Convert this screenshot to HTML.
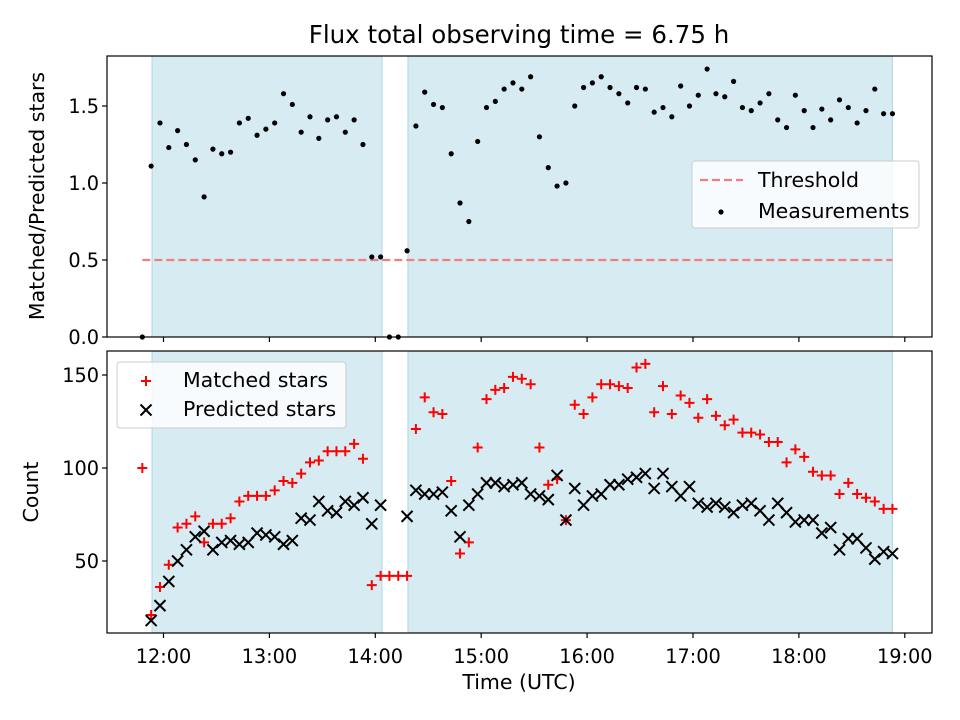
<!DOCTYPE html>
<html><head><meta charset="utf-8"><style>
body{margin:0;background:#fff}
svg{display:block;font-family:"DejaVu Sans","Liberation Sans",sans-serif}
</style></head><body>
<svg id="chart" width="960" height="720" viewBox="0 0 960 720" xmlns="http://www.w3.org/2000/svg">
<text x="519" y="43" font-size="24.5" text-anchor="middle">Flux total observing time = 6.75 h</text>
<g id="top"></g><g id="bot"></g>
</svg>
<script>
// minutes since 11:00
const times=[48,53,58,63,68,73,78,83,88,93,98,103,108,113,118,123,128,133,138,143,148,153,158,163,168,173,178,183,188,193,198,203,208,213,218,223,228,233,238,243,248,253,258,263,268,273,278,283,288,293,298,303,308,313,318,323,328,333,338,343,348,353,358,363,368,373,378,383,388,393,398,403,408,413,418,423,428,433,438,443,448,453,458,463,468,473];
const ratio=[0,1.11,1.39,1.23,1.34,1.25,1.15,0.91,1.22,1.19,1.20,1.39,1.42,1.31,1.35,1.39,1.58,1.51,1.33,1.43,1.29,1.41,1.43,1.33,1.41,1.25,0.52,0.52,0,0,0.56,1.37,1.59,1.51,1.49,1.19,0.87,0.75,1.27,1.49,1.53,1.61,1.65,1.61,1.69,1.30,1.10,0.98,1.00,1.50,1.62,1.65,1.69,1.62,1.58,1.52,1.62,1.61,1.46,1.49,1.43,1.63,1.50,1.57,1.74,1.58,1.56,1.66,1.49,1.47,1.52,1.58,1.41,1.36,1.57,1.47,1.36,1.48,1.41,1.54,1.49,1.39,1.47,1.61,1.45,1.45];
const matched=[100,21,36,48,68,70,74,60,70,70,73,82,85,85,85,88,93,92,97,103,104,109,109,109,113,105,37,42,42,42,42,121,138,130,129,93,54,60,111,137,142,143,149,148,145,111,91,94,72,134,129,138,145,145,144,143,154,156,130,144,129,139,135,127,137,128,123,126,119,119,118,114,114,103,110,106,98,96,96,86,92,86,84,82,78,78];
const predicted=[null,18,26,39,50,56,63,66,56,60,61,59,60,65,64,63,59,61,73,72,82,77,76,82,80,84,70,80,null,null,74,88,86,86,87,77,63,80,86,92,92,90,91,92,86,85,83,96,72,89,80,85,86,91,91,94,95,97,89,97,90,85,90,81,79,81,79,76,80,81,77,72,81,76,71,72,72,65,68,56,62,62,57,51,55,54];
const xTicks=[60,120,180,240,300,360,420,480];
const xTickLabels=["12:00","13:00","14:00","15:00","16:00","17:00","18:00","19:00"];
const topTicks=[0,0.5,1.0,1.5];
const botTicks=[50,100,150];
const spans=[[53.5,183.8],[198.5,473]];
const threshold=0.5;

const NS="http://www.w3.org/2000/svg";
const L=107,R=932,FS=19.3,FL=20.5;
const xs=m=>163.5+(m-60)*105.9/60;
const yTop=v=>337-v*154;
const yBot=v=>468-(v-100)*1.86;
function mk(p,tag,attrs){const e=document.createElementNS(NS,tag);for(const k in attrs)e.setAttribute(k,attrs[k]);p.appendChild(e);return e;}

function axes(g,y0,y1,name){
  spans.forEach(s=>{
    const r=mk(g,'rect',{x:xs(s[0]),y:y0,width:xs(s[1])-xs(s[0]),height:y1-y0,fill:'#add8e6','fill-opacity':0.5,stroke:'#add8e6','stroke-width':1});
    
    
  });
  xTicks.forEach((t,i)=>{
    const l=mk(g,'line',{x1:xs(t),x2:xs(t),y1:y1,y2:y1+5,stroke:'#000','stroke-width':1.2});
    
    
    if(name==='bot'){
      const tx=mk(g,'text',{x:xs(t),y:y1+30,'font-size':FS,'text-anchor':'middle'});
      tx.textContent=xTickLabels[i];
      
      
    }
  });
}
function frame(g,y0,y1){
  const f=mk(g,'rect',{x:L,y:y0,width:R-L,height:y1-y0,fill:'none',stroke:'#000','stroke-width':1.2});
  
  
}
function yticks(g,ticks,fn,fmt){
  ticks.forEach(t=>{
    const y=fn(t);
    const l=mk(g,'line',{x1:L-5,x2:L,y1:y,y2:y,stroke:'#000','stroke-width':1.2});
    
    
    const tx=mk(g,'text',{x:L-8,y:y+7,'font-size':FS,'text-anchor':'end'});
    tx.textContent=fmt(t);
    
    
  });
}
// TOP
const gt=document.getElementById('top');
axes(gt,56,337,'top');
const th=mk(gt,'line',{x1:xs(times[0]),x2:xs(times[times.length-1]),y1:yTop(threshold),y2:yTop(threshold),stroke:'#f08080','stroke-width':2.2,'stroke-dasharray':'8,4'});


times.forEach((t,i)=>{
  const c=mk(gt,'circle',{cx:xs(t),cy:yTop(ratio[i]),r:2.6,fill:'#000'});
  
  
});
frame(gt,56,337);
yticks(gt,topTicks,yTop,v=>v.toFixed(1));
const yl1=mk(gt,'text',{x:44,y:196,'font-size':FL,'text-anchor':'middle',transform:'rotate(-90 44 196)'});
yl1.textContent='Matched/Predicted stars';


// legend top
const lg1=mk(gt,'g',{});


mk(lg1,'rect',{x:692,y:161,width:227,height:67,rx:3,fill:'#fff','fill-opacity':0.8,stroke:'#ccc'});
mk(lg1,'line',{x1:700,x2:743,y1:180,y2:180,stroke:'#f08080','stroke-width':2.2,'stroke-dasharray':'8,4'});
const lt1=mk(lg1,'text',{x:758,y:187,'font-size':FL});lt1.textContent='Threshold';
mk(lg1,'circle',{cx:721,cy:212,r:2.6,fill:'#000'});
const lt2=mk(lg1,'text',{x:758,y:218,'font-size':FL});lt2.textContent='Measurements';
// BOTTOM
const gb=document.getElementById('bot');
axes(gb,351,633,'bot');
function plus(g,x,y){const p=mk(g,'path',{d:`M${x-5} ${y}H${x+5}M${x} ${y-5}V${y+5}`,stroke:'#f00','stroke-width':2});return p;}
function cross(g,x,y){const p=mk(g,'path',{d:`M${x-5.5} ${y-5.5}L${x+5.5} ${y+5.5}M${x-5.5} ${y+5.5}L${x+5.5} ${y-5.5}`,stroke:'#000','stroke-width':2});return p;}
times.forEach((t,i)=>{
  const p=plus(gb,xs(t),yBot(matched[i]));
  
  
});
times.forEach((t,i)=>{
  if(predicted[i]===null)return;
  const p=cross(gb,xs(t),yBot(predicted[i]));
  
  
});
frame(gb,351,633);
yticks(gb,botTicks,yBot,v=>String(v));
const yl2=mk(gb,'text',{x:38,y:492,'font-size':FL,'text-anchor':'middle',transform:'rotate(-90 38 492)'});
yl2.textContent='Count';


const xl=mk(gb,'text',{x:519,y:689,'font-size':FL,'text-anchor':'middle'});
xl.textContent='Time (UTC)';


const lg2=mk(gb,'g',{});


mk(lg2,'rect',{x:117,y:362,width:229,height:66,rx:3,fill:'#fff','fill-opacity':0.8,stroke:'#ccc'});
plus(lg2,146,381);
const lt3=mk(lg2,'text',{x:183,y:387,'font-size':FL});lt3.textContent='Matched stars';
cross(lg2,146,410);
const lt4=mk(lg2,'text',{x:183,y:416,'font-size':FL});lt4.textContent='Predicted stars';
</script>
</body></html>
